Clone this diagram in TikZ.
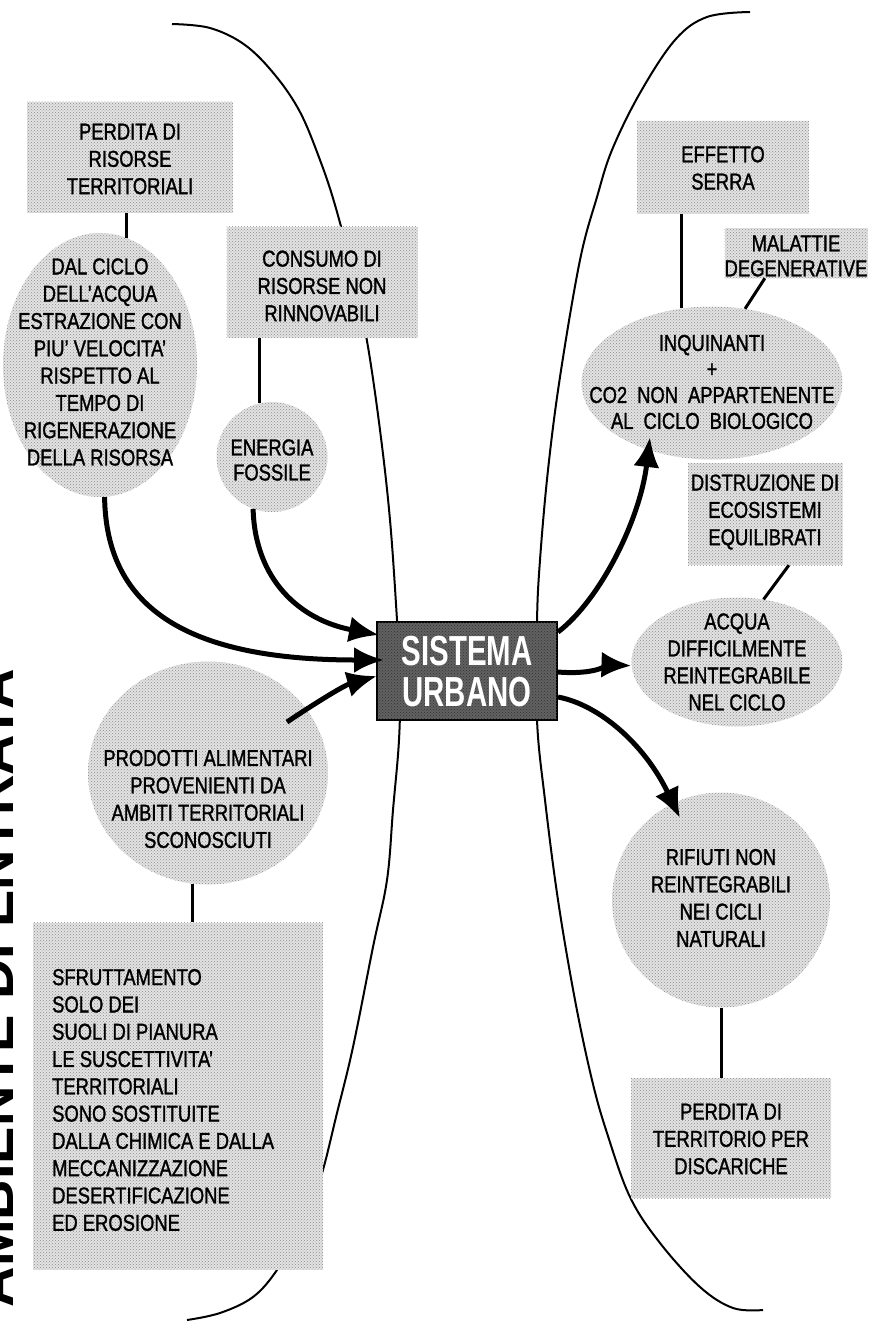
\documentclass[tikz,border=0pt]{standalone}
\usepackage{fontspec}
\setmainfont{Liberation Sans}[FakeStretch=0.8, FakeBold=1.3]
\newfontfamily\headfont{Liberation Sans}[FakeStretch=0.7]
\newfontfamily\sidefont{Liberation Sans}
\usetikzlibrary{shapes.geometric,arrows.meta,calc,patterns}
\begin{document}
\begin{tikzpicture}[x=1pt,y=-1pt,
  blob/.style={ellipse, fill=black!11, draw=none, inner sep=0pt, postaction={pattern=crosshatch dots, pattern color=black!45}},
  card/.style={rectangle, fill=black!11, draw=none, inner sep=0pt, postaction={pattern=crosshatch dots, pattern color=black!45}},
  txt/.style={align=center, font=\fontsize{23}{27.3}\selectfont, inner sep=0pt},
  flow/.style={line width=5pt, -{Latex[length=30pt,width=26pt]}},
  tie/.style={line width=3pt},
  border/.style={line width=2pt}]
\useasboundingbox (0,0) rectangle (874,1323);
\clip (0,0) rectangle (874,1323);

% background boundary curves
\draw[border] plot[smooth, tension=0.6] coordinates {(172,24) (210,28) (245,45) (275,75) (300,112) (320,160) (335,205) (352,270) (367,341) (380,430) (390,520) (397,620) (400,680) (399,740) (393,810) (387,880) (373,947) (353,1047) (337,1113) (320,1180) (300,1230) (277,1270) (253,1297) (220,1313) (187,1320)};
\draw[border] plot[smooth, tension=0.6] coordinates {(750,12) (707,17) (675,40) (640,93) (612,150) (597,197) (580,260) (560,377) (548,470) (540,560) (537,622) (537,720) (545,800) (558,900) (575,1000) (592,1080) (607,1133) (630,1197) (660,1243) (700,1287) (733,1308) (763,1310)};

% side title
\node[rotate=90, anchor=base, inner sep=0pt, font=\sidefont\bfseries\fontsize{56}{60}\selectfont] (side) at (13,988) {AMBIENTE DI ENTRATA};

% shapes
\node[card, minimum width=206pt, minimum height=111pt] (perd) at (130,157) {};
\node[blob, minimum width=194pt, minimum height=264pt] (dal) at (100,365) {};
\node[card, minimum width=191pt, minimum height=111pt] (con) at (322,282) {};
\node[blob, minimum width=111pt, minimum height=110pt] (en) at (272,457) {};
\node[blob, minimum width=240pt, minimum height=223pt] (pro) at (208,773) {};
\node[card, minimum width=290pt, minimum height=347pt] (sfr) at (178,1096) {};
\node[card, minimum width=172pt, minimum height=93pt] (eff) at (723,167) {};
\node[card, minimum width=143pt, minimum height=50pt] (mal) at (796,253) {};
\node[blob, minimum width=261pt, minimum height=153pt] (inq) at (712,383) {};
\node[card, minimum width=155pt, minimum height=102pt] (dis) at (765,514) {};
\node[blob, minimum width=211pt, minimum height=129pt] (acq) at (737,662) {};
\node[blob, minimum width=218pt, minimum height=215pt] (rif) at (721,900) {};
\node[card, minimum width=200pt, minimum height=120pt] (dsc) at (731,1138) {};
\node[rectangle, fill=black!62, draw=black, line width=2pt, minimum width=180pt, minimum height=98pt, postaction={pattern=crosshatch dots, pattern color=black!80}] (sis) at (467,671) {};

% texts
\node[txt] at (130,159) {PERDITA DI\\RISORSE\\TERRITORIALI};
\node[txt] at (100,362) {DAL CICLO\\DELL'ACQUA\\ESTRAZIONE CON\\PIU' VELOCITA'\\RISPETTO AL\\TEMPO DI\\RIGENERAZIONE\\DELLA RISORSA};
\node[txt] at (322,286) {CONSUMO DI\\RISORSE NON\\RINNOVABILI};
\node[txt, font=\fontsize{23}{25}\selectfont] at (272,460) {ENERGIA\\FOSSILE};
\node[txt] at (208,799) {PRODOTTI ALIMENTARI\\PROVENIENTI DA\\AMBITI TERRITORIALI\\SCONOSCIUTI};
\node[txt, align=left, anchor=west] at (52,1100) {SFRUTTAMENTO\\SOLO DEI\\SUOLI DI PIANURA\\LE SUSCETTIVITA'\\TERRITORIALI\\SONO SOSTITUITE\\DALLA CHIMICA E DALLA\\MECCANIZZAZIONE\\DESERTIFICAZIONE\\ED EROSIONE};
\node[txt] at (723,168) {EFFETTO\\SERRA};
\node[txt, font=\fontsize{23}{25}\selectfont] at (796,256) {MALATTIE\\DEGENERATIVE};
\node[txt, font=\fontsize{23}{26}\selectfont] at (712,382) {INQUINANTI\\+\\CO2\hspace{10pt}NON\hspace{10pt}APPARTENENTE\\AL\hspace{10pt}CICLO\hspace{10pt}BIOLOGICO};
\node[txt] at (765,512) {DISTRUZIONE DI\\ECOSISTEMI\\EQUILIBRATI};
\node[txt, font=\fontsize{23}{27}\selectfont] at (737,662) {ACQUA\\DIFFICILMENTE\\REINTEGRABILE\\NEL CICLO};
\node[txt] at (721,898) {RIFIUTI NON\\REINTEGRABILI\\NEI CICLI\\NATURALI};
\node[txt] at (731,1139) {PERDITA DI\\TERRITORIO PER\\DISCARICHE};
\node[txt, text=white, font=\headfont\bfseries\fontsize{42}{41}\selectfont] at (467,672) {SISTEMA\\URBANO};

% thin connectors
\draw[tie] (dal.78) -- (dal.78 |- perd.south);
\draw[tie] (en.103) -- (en.103 |- con.south);
\draw[tie] (pro.262) -- (pro.262 |- sfr.north);
\draw[tie] (inq.112) -- (inq.112 |- eff.south);
\draw[tie] (mal.219) -- (inq.66);
\draw[tie] (dis.295) -- (acq.67);
\draw[tie] (rif.south) -- (rif.south |- dsc.north);

% flows into the urban system
\draw[flow] (dal.272) .. controls (106,610) and (190,660) .. ($(sis.west)+(8,-11)$);
\draw[flow] (en.250) .. controls (255,580) and (300,620) .. ($(sis.west)+(3,-36)$);
\draw[flow] ($(pro.center)+(79,-51)$) .. controls (320,700) and (345,685) .. ($(sis.west)+(1,5)$);

% flows out of the urban system
\draw[flow] ($(sis.east)+(0,-39)$) .. controls (600,600) and (640,520) .. ($(inq.center)+(-62,54)$);
\draw[flow] ($(sis.east)+(0,1)$) .. controls (595,675) and (610,665) .. (acq.182);
\draw[flow] ($(sis.east)+(0,26)$) .. controls (600,705) and (645,745) .. ($(rif.center)+(-41,-82)$);
\end{tikzpicture}
\end{document}
